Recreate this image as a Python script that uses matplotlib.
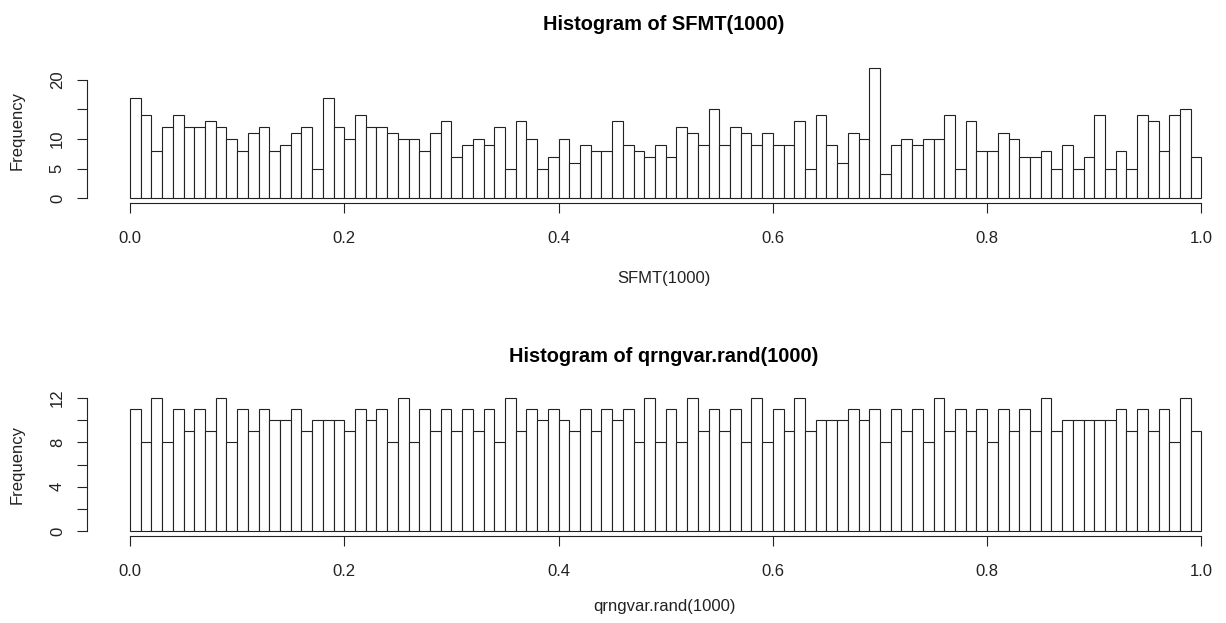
import matplotlib
matplotlib.use("Agg")
import matplotlib.pyplot as plt
import numpy as np

# bin counts (100 bins of width 0.01 on [0, 1])
SFMT_COUNTS = [17, 14, 8, 12, 14, 12, 12, 13, 12, 10,
               8, 11, 12, 8, 9, 11, 12, 5, 17, 12,
               10, 14, 12, 12, 11, 10, 10, 8, 11, 13,
               7, 9, 10, 9, 12, 5, 13, 10, 5, 7,
               10, 6, 9, 8, 8, 13, 9, 8, 7, 9,
               7, 12, 11, 9, 15, 9, 12, 11, 9, 11,
               9, 9, 13, 5, 14, 9, 6, 11, 10, 22,
               4, 9, 10, 9, 10, 10, 14, 5, 13, 8,
               8, 11, 10, 7, 7, 8, 5, 9, 5, 7,
               14, 5, 8, 5, 14, 13, 8, 14, 15, 7]
QRNG_COUNTS = [11, 8, 12, 8, 11, 9, 11, 9, 12, 8,
               11, 9, 11, 10, 10, 11, 9, 10, 10, 10,
               9, 11, 10, 11, 8, 12, 8, 11, 9, 11,
               9, 11, 9, 11, 8, 12, 9, 11, 10, 11,
               10, 9, 11, 9, 11, 10, 11, 8, 12, 8,
               11, 8, 12, 9, 11, 9, 11, 8, 12, 8,
               11, 9, 12, 9, 10, 10, 10, 11, 10, 11,
               8, 11, 9, 11, 8, 12, 9, 11, 9, 11,
               8, 11, 9, 11, 9, 12, 9, 10, 10, 10,
               10, 10, 11, 9, 11, 9, 11, 8, 12, 9]
BIN_EDGES = np.linspace(0, 1, 101)

TITLES = ["Histogram of SFMT(1000)", "Histogram of qrngvar.rand(1000)"]
XLABELS = ["SFMT(1000)", "qrngvar.rand(1000)"]
X_TICKS = [0.0, 0.2, 0.4, 0.6, 0.8, 1.0]
Y_TICKS = [[0, 5, 10, 15, 20], [0, 2, 4, 6, 8, 10, 12]]
Y_TICKLABELS = [["0", "5", "10", "", "20"], ["0", "", "4", "", "8", "", "12"]]

W, H = 1226, 623


def frac_x(px):
    return px / W


def frac_y(py):
    return 1 - py / H


def draw_hist(ax, counts, yticks, yticklabels):
    ymax = max(counts)
    ax.bar(BIN_EDGES[:-1], counts, width=np.diff(BIN_EDGES), align="edge",
           facecolor="white", edgecolor="#222222", linewidth=0.8)
    ax.set_xlim(-0.04, 1.04)
    ax.set_ylim(-0.04 * ymax, 1.04 * ymax)

    for side in ["top", "right"]:
        ax.spines[side].set_visible(False)
    ax.spines["bottom"].set_bounds(0, 1)
    ax.spines["left"].set_bounds(yticks[0], yticks[-1])
    for side in ["bottom", "left"]:
        ax.spines[side].set_linewidth(0.8)
        ax.spines[side].set_color("#222222")

    ax.set_xticks(X_TICKS)
    ax.set_xticklabels([f"{t:.1f}" for t in X_TICKS])
    ax.set_yticks(yticks)
    ax.set_yticklabels(yticklabels, rotation=90, va="center")
    ax.tick_params(direction="out", length=7, width=0.8, color="#222222",
                   labelsize=12, labelcolor="#222222")
    ax.tick_params(axis="x", pad=13)
    ax.tick_params(axis="y", pad=9)
    ax.patch.set_visible(False)


def main():
    plt.rcParams["font.family"] = ["Liberation Sans", "DejaVu Sans"]
    fig = plt.figure(figsize=(W / 100, H / 100), dpi=100)

    # plot regions in pixels: (top, bottom) of each panel
    left = 87.1
    width = 1157.2
    panels = [(63.0, 203.2), (392.7, 536.3)]
    title_y = [25, 356]
    xlabel_y = [279, 607]
    ylabel_y = [130, 465]

    for i, counts in enumerate([SFMT_COUNTS, QRNG_COUNTS]):
        top, bottom = panels[i]
        ax = fig.add_axes([frac_x(left), frac_y(bottom),
                           width / W, (bottom - top) / H])
        draw_hist(ax, counts, Y_TICKS[i], Y_TICKLABELS[i])
        fig.text(frac_x(664), frac_y(title_y[i]), TITLES[i], ha="center",
                 va="center", fontsize=14.4, fontweight="bold")
        fig.text(frac_x(664), frac_y(xlabel_y[i]), XLABELS[i], ha="center",
                 va="center", fontsize=12, color="#222222")
        fig.text(frac_x(17), frac_y(ylabel_y[i]), "Frequency", ha="center",
                 va="center", rotation=90, fontsize=12, color="#222222")

    fig.savefig("out.png", dpi=100, facecolor="white")


if __name__ == "__main__":
    main()
